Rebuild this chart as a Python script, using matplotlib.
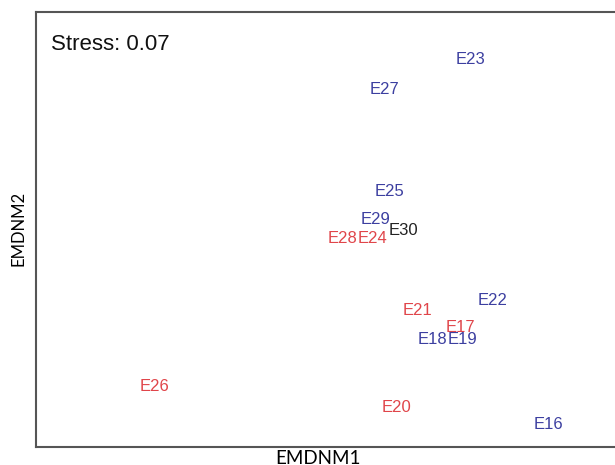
import matplotlib
matplotlib.use("Agg")
import matplotlib.pyplot as plt

# NMDS scores (arbitrary units)
samples = ["E23", "E27", "E25", "E29", "E30", "E28", "E24", "E21", "E22",
           "E17", "E18", "E19", "E26", "E20", "E16"]
nmds1 = [0.747, 0.598, 0.608, 0.584, 0.631, 0.526, 0.578, 0.655, 0.785,
         0.729, 0.682, 0.733, 0.203, 0.619, 0.880]
nmds2 = [0.890, 0.821, 0.588, 0.524, 0.497, 0.480, 0.480, 0.313, 0.336,
         0.275, 0.246, 0.246, 0.140, 0.090, 0.051]
groups = ["B", "B", "B", "B", "K", "R", "R", "R", "B",
          "R", "B", "B", "R", "R", "B"]
stress = 0.07

colors = {"R": "#e0454a", "B": "#3c3fa0", "K": "#222222"}

fig = plt.figure(figsize=(6.15, 4.65), dpi=100)
ax = fig.add_axes([36 / 615, 18 / 465, 582 / 615, 435 / 465])
ax.set_xlim(0, 1)
ax.set_ylim(0, 1)
for s, x, y, g in zip(samples, nmds1, nmds2, groups):
    ax.text(x, y, s, color=colors[g], fontsize=12, ha="center", va="center",
            family="Liberation Sans")
ax.text(0.026, 0.926, f"Stress: {stress}", fontsize=16, ha="left", va="center",
        family="Liberation Sans", color="#111111", transform=ax.transAxes)
ax.set_xticks([])
ax.set_yticks([])
for sp in ax.spines.values():
    sp.set_color("#555555")
    sp.set_linewidth(1.5)
ax.set_xlabel("EMDNM1", fontsize=13.5, family="Lato", va="top")
ax.xaxis.set_label_coords(0.484, -0.006)
ax.set_ylabel("EMDNM2", fontsize=12, family="Lato")
ax.yaxis.set_label_coords(-0.017, 0.502)
fig.savefig("out.png", dpi=100)
